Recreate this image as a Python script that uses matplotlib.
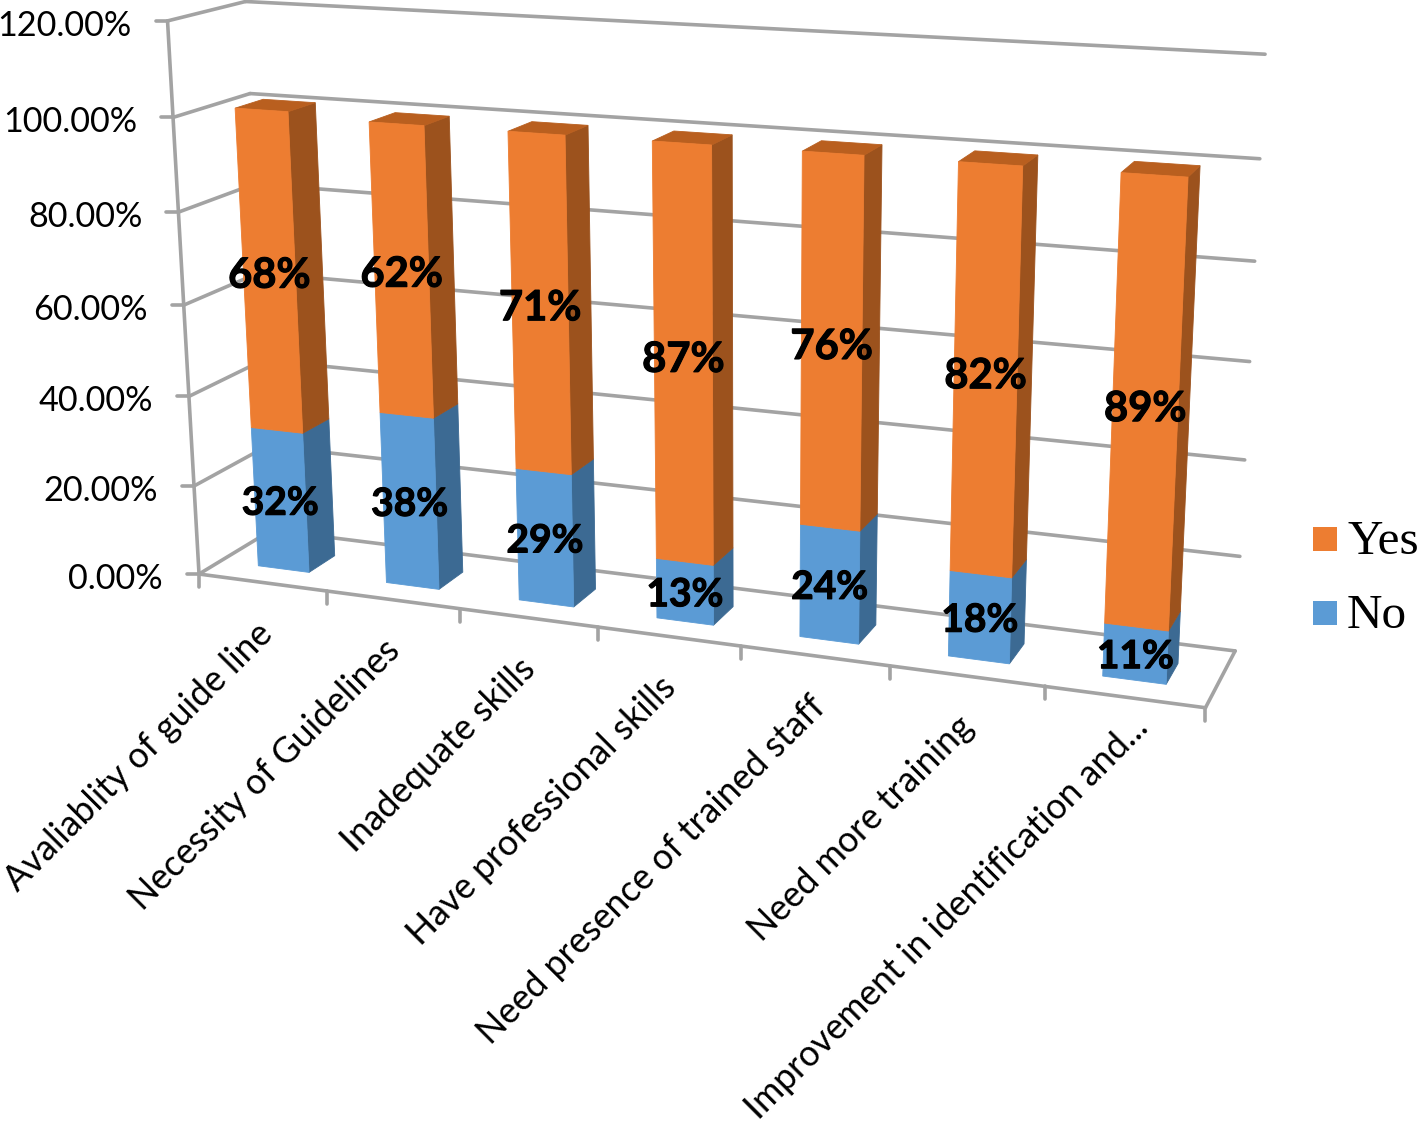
import numpy as np
import matplotlib
matplotlib.use('Agg')
import matplotlib.pyplot as plt
import matplotlib.patheffects as pe
from matplotlib.patches import Polygon, Rectangle

categories = ['Avaliablity of guide line', 'Necessity of Guidelines', 'Inadequate skills',
              'Have professional skills', 'Need presence of trained staff', 'Need more training',
              'Improvement in identification and...']
no_vals = [31.5, 38, 29, 13, 24, 18, 11]
yes_vals = [69.5, 62, 71, 87, 76, 82, 89]
no_labels = ['32%', '38%', '29%', '13%', '24%', '18%', '11%']
yes_labels = ['68%', '62%', '71%', '87%', '76%', '82%', '89%']
y_ticks = [0, 20, 40, 60, 80, 100, 120]

# camera calibration: (category, value, depth) -> pixel
calib = [
    (0, 0, 0, 198, 574), (0, 20, 0, 193, 486), (0, 40, 0, 188, 396), (0, 60, 0, 184, 304),
    (0, 80, 0, 180, 212), (0, 100, 0, 174, 117), (0, 120, 0, 168, 22),
    (0, 120, 1, 244, 2), (0, 100, 1, 249, 93), (0, 0, 1, 274, 531),
    (1, 0, 0, 327, 591), (2, 0, 0, 460, 609), (3, 0, 0, 598, 627), (4, 0, 0, 741, 646),
    (5, 0, 0, 890, 666), (6, 0, 0, 1045, 687), (7, 0, 0, 1205, 708),
    (7, 0, 1, 1234, 650), (7, 20, 1, 1240, 557), (7, 40, 1, 1245, 460), (7, 60, 1, 1250, 360),
    (7, 80, 1, 1255, 262), (7, 100, 1, 1260, 158), (7, 120, 1, 1265, 55),
]
rows = []
rhs = []
for x, y, z, u, v in calib:
    rows.append([x, y, z, 1, 0, 0, 0, 0, -u*x, -u*y, -u*z])
    rows.append([0, 0, 0, 0, x, y, z, 1, -v*x, -v*y, -v*z])
    rhs += [u, v]
sol = np.linalg.lstsq(np.array(rows, float), np.array(rhs, float), rcond=None)[0]
cam = np.append(sol, 1).reshape(3, 4)

def proj(x, y, z):
    p = cam @ np.array([x, y, z, 1.0])
    return p[0]/p[2], p[1]/p[2]

fig = plt.figure(figsize=(14.18, 11.26), dpi=100)
ax = fig.add_axes([0, 0, 1, 1])
ax.set_xlim(0, 1418)
ax.set_ylim(1126, 0)
ax.axis('off')

grid = '#a3a3a3'
def line(a, b, lw=2.6):
    ax.plot([a[0], b[0]], [a[1], b[1]], color=grid, lw=lw, solid_capstyle='round', zorder=1)

n = len(categories)
for t in y_ticks:
    f = proj(0, t, 0)
    line(f, proj(0, t, 1))
    line(proj(0, t, 1), proj(n, t, 1))
    line(f, (f[0]-12, f[1]))
    ax.text(f[0]-36, f[1]+5, '%.2f%%' % t, ha='right', va='center', family='Lato', fontsize=24.6, color='black')
line(proj(0, 0, 0), proj(0, 120, 0))
line(proj(0, 0, 0), proj(n, 0, 0))
line(proj(n, 0, 0), proj(n, 0, 1))
for i in range(n+1):
    f = proj(i, 0, 0)
    line(f, (f[0], f[1]+13))

z0, z1 = 0.29, 0.66
def box(i, lo, hi, front, side, top, zo):
    x0, x1 = i+0.3, i+0.7
    ax.add_patch(Polygon([proj(x1, lo, z0), proj(x1, lo, z1), proj(x1, hi, z1), proj(x1, hi, z0)],
                         fc=side, ec=side, lw=0.6, zorder=zo))
    if top:
        ax.add_patch(Polygon([proj(x0, hi, z0), proj(x1, hi, z0), proj(x1, hi, z1), proj(x0, hi, z1)],
                             fc=top, ec=top, lw=0.6, zorder=zo))
    ax.add_patch(Polygon([proj(x0, lo, z0), proj(x1, lo, z0), proj(x1, hi, z0), proj(x0, hi, z0)],
                         fc=front, ec=front, lw=0.6, zorder=zo))

orange = '#ed7d31'
blue = '#5b9bd5'
for i in range(n):
    box(i, 0, no_vals[i], blue, '#3c6a93', None, 3)
    box(i, no_vals[i], no_vals[i]+yes_vals[i], orange, '#9c521d', '#b95f1f', 3)

# the last label sits apart from the others in the original
lab_dx = [-15, -18, -18, -18, -14, -18, -1]
lab_dy = [-6, -6, -6, -6, -6, -6, -27]
bold = [pe.withStroke(linewidth=0.8, foreground='black')]
for i in range(n):
    xa, ya = proj(i+0.5, no_vals[i]/2, z0)
    ax.text(xa, ya+3, no_labels[i], ha='center', va='center', family='Lato',
            weight='bold', fontsize=28, color='black', zorder=5, path_effects=bold)
    xa, ya = proj(i+0.5, no_vals[i]+yes_vals[i]/2, z0)
    ax.text(xa, ya+3, yes_labels[i], ha='center', va='center', family='Lato',
            weight='bold', fontsize=30, color='black', zorder=5, path_effects=bold)

    xa, ya = proj(i+0.5, 0, 0)
    ax.text(xa+8+lab_dx[i], ya+40+lab_dy[i], categories[i], rotation=45, rotation_mode='anchor', ha='right', va='top',
            family='Lato', fontsize=25.6, color='black')

ax.add_patch(Rectangle((1313, 527), 24, 24, fc=orange, ec='none'))
ax.add_patch(Rectangle((1313, 601), 24, 24, fc=blue, ec='none'))
ax.text(1347, 542, 'Yes', family='Liberation Serif', fontsize=35.5, va='center', ha='left', color='black')
ax.text(1347, 616, 'No', family='Liberation Serif', fontsize=35.5, va='center', ha='left', color='black')

plt.savefig('out.png', dpi=100)
